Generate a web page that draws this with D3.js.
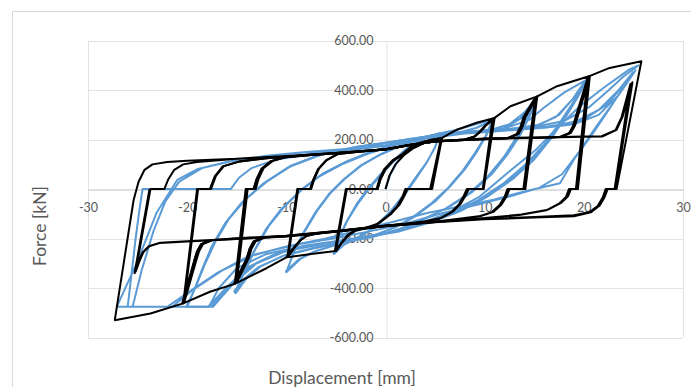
<!DOCTYPE html>
<html>
<head>
<meta charset="utf-8">
<script src="https://cdn.jsdelivr.net/npm/d3@7"></script>
<style>
  body { margin: 0; background: #fff; }
  svg { display: block; }
  text { font-family: Lato, "Open Sans", sans-serif; fill: #595959; }
</style>
</head>
<body>
<svg id="chart" width="691" height="387"></svg>
<script>
// Axis ticks
const xTicks = [-30, -20, -10, 0, 10, 20, 30];
const yTicks = [-600, -400, -200, 0, 200, 400, 600];
const xLabel = "Displacement [mm]";
const yLabel = "Force [kN]";

// Numerical model response, one array per displacement amplitude, [mm, kN]
const blackA5 = [
  [0,0],[0.4,55],[1.0,100],[1.8,135],[2.8,165],[4.0,188],[5.0,200],[5.7,207],
  [4.6,0],[2.1,0],[1.8,-30],[1.3,-65],[0.5,-100],[-0.8,-140],[-2.0,-157],[-3.0,-167],[-3.7,-184],[-4.3,-210],[-5.0,-250],
  [-3.9,0],[-0.8,0],[-0.5,40],[0,80],[0.8,115],[1.8,140],[2.7,172],[3.7,188],[4.6,199],[5.6,205],
  [4.5,0],[2.0,0],[1.7,-32],[1.2,-68],[0.4,-103],[-0.9,-142],[-2.0,-156],[-3.0,-167],[-3.7,-184],[-4.2,-208],[-5.1,-248],
  [-4.0,0],[-0.9,0],[-0.6,42],[-0.1,82],[0.7,116],[1.7,142],[2.6,172],[3.6,189],[4.5,199],[5.7,206],
  [4.7,0],[2.2,0],[1.9,-28],[1.4,-64],[0.6,-99],[-0.7,-139],[-1.9,-157],[-2.9,-166],[-3.6,-183],[-4.2,-206],[-5.0,-252]
];
const blackA10 = [
  [-3.9,0],[-0.8,0],[-0.5,42],[0,82],[0.8,116],[1.8,142],[2.7,174],[3.7,190],[4.6,200],[5.7,207],[7.2,240],[9.2,268],[11.0,288],
  [9.9,0],[8.3,0],[8.0,-25],[7.5,-60],[6.7,-92],[5.5,-118],[4.0,-130],[2.0,-140],[0,-148],[-2.1,-157],[-3.1,-168],[-3.8,-185],[-4.3,-210],[-5.0,-250],[-7.5,-262],[-9.9,-276],
  [-8.9,0],[-7.6,0],[-7.3,35],[-6.8,80],[-6.0,115],[-4.8,142],[-2.5,152],[0,160],[2.5,178],[5,192],[7.9,200],[8.9,212],[9.5,232],[10.0,255],[10.8,285],
  [9.8,0],[8.2,0],[7.9,-27],[7.4,-62],[6.6,-94],[5.4,-120],[4,-131],[2,-141],[0,-149],[-2.5,-161],[-5,-171],[-6.9,-180],[-7.9,-188],[-8.5,-205],[-9.0,-228],[-9.8,-272],
  [-8.8,0],[-7.5,0],[-7.2,38],[-6.7,83],[-5.9,118],[-4.7,143],[-2.5,153],[0,161],[2.5,179],[5,193],[8.0,201],[9.0,213],[9.6,234],[10.1,257],[11.0,287],
  [9.9,0],[8.4,0],[8.1,-24],[7.6,-58],[6.8,-91],[5.6,-117],[4,-130],[2,-140],[0,-148],[-2.5,-160],[-5,-170],[-7.0,-181],[-8.0,-190],[-8.6,-207],[-9.1,-230],[-10.0,-275]
];
const blackA15 = [
  [-8.9,0],[-7.6,0],[-7.3,36],[-6.8,81],[-6.0,116],[-4.8,142],[-2.5,152],[0,160],[2.5,178],[5,192],[8.0,201],[9.0,213],[9.6,234],[10.1,257],[11.0,288],[12.6,335],[15.3,375],
  [14.0,0],[12.4,0],[12.1,-30],[11.6,-62],[10.8,-92],[9.5,-110],[7,-122],[5,-132],[2.5,-140],[0,-148],[-2.5,-160],[-5,-170],[-7.0,-181],[-8.0,-190],[-8.6,-207],[-9.1,-230],[-10.0,-276],[-12,-320],[-15.2,-383],
  [-14.1,0],[-13.3,0],[-13.0,40],[-12.5,82],[-11.6,112],[-10.3,128],[-7.5,138],[-5,145],[-2.5,152],[0,160],[2.5,178],[5,192],[8.5,200],[10,203],[12.2,205],[13.2,222],[13.6,250],[13.9,290],[15.1,370],
  [13.9,0],[12.3,0],[12.0,-32],[11.5,-64],[10.7,-94],[9.4,-111],[7,-123],[5,-133],[2.5,-141],[0,-149],[-5,-171],[-10,-190],[-12.1,-195],[-13.1,-211],[-13.5,-240],[-13.8,-280],[-15.0,-378],
  [-13.9,0],[-13.1,0],[-12.8,42],[-12.3,84],[-11.4,113],[-10.1,129],[-7.5,139],[-5,146],[-2.5,153],[0,161],[2.5,179],[5,193],[8.5,201],[10,204],[12.4,206],[13.4,223],[13.8,252],[14.1,292],[15.3,374],
  [14.1,0],[12.5,0],[12.2,-30],[11.7,-62],[10.9,-92],[9.6,-109],[7,-122],[5,-132],[2.5,-140],[0,-148],[-5,-170],[-10,-190],[-12.3,-196],[-13.3,-212],[-13.7,-241],[-14.0,-281],[-15.3,-384]
];
const blackA20 = [
  [-14.1,0],[-13.3,0],[-13.0,40],[-12.5,82],[-11.6,112],[-10.3,128],[-7.5,138],[-5,145],[-2.5,152],[0,160],[2.5,178],[5,192],[8.5,200],[10,203],[12.4,206],[13.4,223],[13.8,252],[14.1,292],[15.3,375],[17.3,416],[20.5,456],
  [19.3,0],[18.6,0],[18.3,-30],[17.6,-57],[16.3,-84],[13.6,-104],[10,-118],[5,-132],[0,-148],[-5,-170],[-10,-190],[-12.3,-196],[-13.3,-212],[-13.7,-241],[-14.0,-281],[-15.2,-383],[-17.7,-415],[-20.4,-462],
  [-19.0,0],[-17.7,0],[-17.2,51],[-16.4,92],[-14.7,112],[-12,125],[-8,137],[-5,145],[0,160],[2.5,178],[5,192],[8.5,200],[12,205],[15,207],[17.5,210],[18.5,226],[18.9,254],[19.2,294],[20.4,452],
  [19.2,0],[18.5,0],[18.2,-32],[17.5,-59],[16.2,-86],[13.5,-105],[10,-119],[5,-133],[0,-149],[-5,-171],[-10,-191],[-15,-201],[-17.4,-206],[-18.4,-222],[-18.8,-251],[-19.1,-291],[-20.3,-458],
  [-18.9,0],[-17.6,0],[-17.1,53],[-16.3,93],[-14.6,113],[-12,126],[-8,138],[-5,146],[0,161],[2.5,179],[5,193],[8.5,201],[12,206],[15,208],[17.7,211],[18.7,228],[19.1,256],[19.4,296],[20.6,455],
  [19.4,0],[18.7,0],[18.4,-29],[17.7,-56],[16.4,-83],[13.7,-103],[10,-117],[5,-131],[0,-147],[-5,-169],[-10,-189],[-15,-199],[-17.6,-207],[-18.6,-223],[-19.0,-252],[-19.3,-292],[-20.5,-462]
];
const blackA25 = [
  [-19.0,0],[-17.7,0],[-17.2,51],[-16.4,92],[-14.7,112],[-12,125],[-8,137],[-5,145],[0,160],[2.5,178],[5,192],[8.5,200],[12,205],[15,207],[17.6,210],[18.6,227],[19.0,255],[19.3,294],[20.5,456],[22.6,490],[25.8,517],
  [23.3,0],[22.3,0],[22.0,-30],[21.5,-65],[20.6,-92],[19.0,-106],[15,-113],[10,-120],[5,-132],[0,-148],[-5,-170],[-10,-190],[-15,-200],[-17.6,-207],[-18.6,-223],[-19.0,-252],[-19.3,-292],[-20.4,-462],[-23.7,-503],[-27.3,-530],
  [-25.4,-44],[-24.9,30],[-24.3,78],[-23.5,100],[-22,110],[-20,115],[-15,123],[-10,133],[-5,145],[0,160],[2.5,178],[5,192],[10,204],[15,208],[20,212],[21.9,213],[23.3,240],[23.9,292],[24.9,432],
  [23.2,0],[22.4,0],[22.1,-32],[21.6,-66],[20.7,-94],[19,-108],[15,-114],[10,-121],[5,-133],[0,-149],[-5,-171],[-10,-191],[-15,-201],[-20,-211],[-22.7,-217],[-23.8,-230],[-24.4,-254],[-24.8,-290],[-25.2,-334],
  [-23.7,0],[-22.3,0],[-21.9,40],[-21.3,78],[-20.4,100],[-19,110],[-15,123],[-10,134],[-5,146],[0,161],[2.5,179],[5,193],[10,205],[15,209],[20,213],[21.8,214],[23.2,238],[23.8,290],[24.7,425],
  [23.1,0],[22.2,0],[21.9,-34],[21.4,-68],[20.5,-96],[19,-110],[15,-115],[10,-122],[5,-134],[0,-150],[-5,-172],[-10,-192],[-15,-202],[-20,-212],[-22.8,-218],[-23.9,-232],[-24.5,-256],[-24.9,-292],[-25.3,-340],
  [-23.8,0]
];

// Test response, one array per displacement amplitude, [mm, kN]
const blueA5 = [
  [0,0],[0.5,60],[1.2,110],[2.2,155],[3.3,190],[4.4,212],[5.5,225],
  [5.0,170],[4.2,110],[3.2,50],[2.0,-20],[0.8,-80],[-0.5,-135],[-1.8,-175],[-3.0,-200],[-4.2,-225],[-5.2,-262],
  [-4.7,-200],[-3.9,-130],[-2.9,-60],[-1.8,0],[-0.5,60],[0.8,115],[2.0,160],[3.2,195],[4.4,215],[5.5,226],
  [5.0,168],[4.1,105],[3.0,45],[1.8,-25],[0.6,-85],[-0.7,-138],[-2.0,-178],[-3.2,-203],[-4.3,-228],[-5.3,-264]
];
const blueA10 = [
  [-4.7,-200],[-3.9,-130],[-2.8,-60],[-1.7,0],[-0.4,60],[0.9,115],[2.1,160],[3.3,195],[4.5,215],[5.5,226],[7.0,238],[8.5,255],[10.9,283],
  [10.2,220],[9.2,150],[8.0,80],[6.5,10],[5.0,-50],[3.0,-110],[1.0,-155],[-1.0,-185],[-3.0,-205],[-5.0,-225],[-7.0,-250],[-8.5,-280],[-10.0,-336],
  [-9.2,-250],[-8.2,-170],[-7.0,-90],[-5.7,-20],[-4.2,40],[-2.5,95],[-0.5,140],[1.5,175],[3.5,205],[5.5,222],[7.5,230],[9.2,248],[10.8,280],
  [10.1,215],[9.0,145],[7.8,75],[6.3,5],[4.7,-55],[2.8,-112],[0.8,-157],[-1.2,-187],[-3.2,-207],[-5.2,-228],[-7.2,-253],[-8.7,-283],[-10.1,-333]
];
const blueA15 = [
  [-9.2,-250],[-8.1,-168],[-6.9,-88],[-5.6,-18],[-4.1,42],[-2.4,97],[-0.4,142],[1.6,177],[3.6,207],[5.6,224],[8,232],[10.5,238],[12.5,262],[14,310],[15.3,370],
  [14.6,300],[13.6,220],[12.3,140],[10.7,60],[8.8,-10],[6.5,-70],[4,-120],[1.5,-160],[-1,-190],[-4,-212],[-7,-235],[-10,-265],[-12.5,-310],[-14,-360],[-15.1,-421],
  [-14.2,-330],[-13.1,-240],[-11.8,-150],[-10.2,-70],[-8.4,0],[-6.4,60],[-4,110],[-1.5,150],[1,180],[3.5,208],[6,226],[9,234],[12,245],[13.8,290],[15.2,366],
  [14.5,296],[13.4,214],[12.1,134],[10.5,55],[8.6,-14],[6.3,-74],[3.8,-123],[1.3,-163],[-1.2,-192],[-4.2,-214],[-7.2,-238],[-10.2,-268],[-12.7,-314],[-14.2,-364],[-15.2,-418],
  [-14.3,-340],[-13.3,-255],[-12.1,-165],[-10.6,-85],[-8.8,-15],[-6.8,48],[-4.4,100],[-1.8,143],[0.8,176],[3.3,205],[5.8,224],[8.8,233],[11.8,243],[13.6,285],[15.0,360],
  [14.3,290],[13.2,208],[11.9,128],[10.3,50],[8.4,-18],[6.1,-78],[3.6,-126],[1.1,-166],[-1.4,-195],[-4.4,-217],[-7.4,-241],[-10.4,-271],[-12.9,-318],[-14.4,-368],[-15.3,-415]
];
const blueA20 = [
  [-14.2,-330],[-13.1,-240],[-11.8,-150],[-10.2,-70],[-8.4,0],[-6.4,60],[-4,110],[-1.5,150],[1,180],[3.5,208],[6,226],[9,234],[12,245],[14.5,280],[16,330],[18,390],[20.3,443],
  [19.5,380],[18.3,300],[16.8,210],[15,120],[12.8,40],[10.3,-30],[7.5,-90],[4.5,-135],[1.5,-170],[-2,-195],[-6,-220],[-10,-250],[-13,-300],[-15.3,-380],[-17.4,-476],[-20.0,-476],
  [-19.2,-400],[-18.3,-310],[-17.2,-215],[-15.8,-120],[-14.1,-40],[-12,30],[-9.5,95],[-6.5,140],[-3,170],[0.5,190],[4,212],[8,230],[12,240],[15.5,260],[17.5,300],[19,370],[20.2,440],
  [19.3,370],[18,290],[16.5,200],[14.6,110],[12.4,30],[9.8,-40],[7,-98],[4,-140],[1,-172],[-2.5,-198],[-6.5,-222],[-10.5,-255],[-13.5,-310],[-15.8,-395],[-17.6,-476],[-20.1,-476],
  [-19.3,-410],[-18.5,-325],[-17.5,-230],[-16.2,-140],[-14.5,-55],[-12.4,20],[-9.8,88],[-6.8,135],[-3.3,167],[0.2,188],[3.8,210],[7.8,229],[11.8,239],[15.2,256],[17.2,292],[18.8,360],[20.1,436],
  [19.0,355],[17.6,270],[16.0,180],[14.0,95],[11.8,20],[9.2,-48],[6.4,-103],[3.4,-145],[0.4,-176],[-3,-201],[-7,-225],[-11,-260],[-14,-318],[-16.2,-405],[-17.9,-476],[-20.2,-476]
];
const blueA25 = [
  [-19.2,-400],[-18.3,-310],[-17.2,-215],[-15.8,-120],[-14.1,-40],[-12,30],[-9.5,95],[-6.5,140],[-3,170],[0.5,190],[4,212],[8,230],[12,240],[15.5,255],[18,275],[20.5,330],[22.5,400],[24,455],[25.5,500],
  [24.6,484],[22,410],[19.6,335],[17.4,250],[15.2,160],[12.3,65],[9.5,-30],[6.5,-95],[3,-145],[0,-178],[-4,-205],[-8,-228],[-12,-262],[-15,-320],[-16.8,-400],[-17.8,-476],[-27.1,-476],
  [-25.1,-300],[-23.1,-97],[-21,37],[-19,80],[-16,110],[-12,135],[-8,150],[-4,162],[0,178],[4,208],[8,228],[12,238],[16,250],[19,270],[21.5,320],[23.5,400],[24.9,470],
  [23.8,400],[22.5,320],[21,230],[19,120],[17.6,24],[14,-10],[10.9,-43],[7.5,-70],[4.2,-97],[0.5,-135],[-2.6,-165],[-6,-200],[-10,-232],[-14,-275],[-17,-340],[-20,-420],[-22,-476],[-26,-476],
  [-25.6,-340],[-25.2,-200],[-24.8,-80],[-24.5,0],[-15.6,0],[-14.8,45],[-13.5,85],[-11,120],[-7,145],[-3,160],[1,180],[4,205],[8,225],[12,236],[16,248],[19,262],[21.5,300],[23.5,380],[25.2,480],
  [24.2,420],[22.8,340],[21.2,250],[19.5,150],[17.8,60],[15.5,5],[12.5,-30],[9,-65],[5.5,-100],[2,-140],[-1.5,-170],[-5,-198],[-9,-225],[-13,-262],[-16.5,-330],[-19.5,-410],[-21.5,-476],[-25.5,-476],
  [-24.6,-330],[-23.4,-170],[-22.2,-50],[-20.8,30],[-18.5,85],[-15,118],[-11,138],[-7,152],[-3,165],[1,182],[5,212],[9,230],[13,240],[17,255],[20,282],[22.3,340],[24,420],[25.0,475]
];

const blueSeries = [blueA5, blueA10, blueA15, blueA20, blueA25];
const blackSeries = [blackA5, blackA10, blackA15, blackA20, blackA25];

const svg = d3.select("#chart");
const x = d3.scaleLinear().domain([-30, 30]).range([88, 683]);
const y = d3.scaleLinear().domain([-600, 600]).range([337.5, 40.7]);

// chart frame (top and left edges show inside the page)
svg.append("path")
  .attr("d", `M12.5,387 V11.5 H691`)
  .attr("fill", "none")
  .attr("stroke", "#d9d9d9")
  .attr("stroke-width", 1);

// horizontal gridlines
svg.append("g").selectAll("line")
  .data(yTicks.filter(d => d !== 0))
  .join("line")
  .attr("x1", x(-30)).attr("x2", x(30))
  .attr("y1", d => Math.round(y(d)) + 0.5).attr("y2", d => Math.round(y(d)) + 0.5)
  .attr("stroke", "#e3e3e3").attr("stroke-width", 1);

// vertical gridlines at the ends of the displacement range
svg.append("g").selectAll("line")
  .data([-30, 30])
  .join("line")
  .attr("x1", d => Math.round(x(d)) + 0.5).attr("x2", d => Math.round(x(d)) + 0.5)
  .attr("y1", y(600)).attr("y2", y(-600))
  .attr("stroke", "#e3e3e3").attr("stroke-width", 1);

// displacement axis through zero force
const xAxis = d3.axisBottom(x).tickValues(xTicks).tickSize(0).tickPadding(14)
  .tickFormat(d => String(d));
const gx = svg.append("g")
  .attr("transform", `translate(0,${Math.round(y(0)) + 0.5})`)
  .call(xAxis);
gx.select(".domain").attr("stroke", "#bfbfbf");
gx.selectAll("text").style("font-size", "12.5px").style("fill", "#595959");

// force axis through zero displacement
const yAxis = d3.axisLeft(y).tickValues(yTicks).tickSize(0).tickPadding(13)
  .tickFormat(d => d.toFixed(2));
const gy = svg.append("g")
  .attr("transform", `translate(${Math.round(x(0)) + 0.5},0)`)
  .call(yAxis);
gy.select(".domain").attr("stroke", "#e3e3e3");
gy.selectAll("text").style("font-size", "12.5px").style("fill", "#595959");

// hysteresis curves
const line = d3.line().x(d => x(d[0])).y(d => y(d[1]));
svg.append("g").selectAll("path")
  .data(blueSeries)
  .join("path")
  .attr("d", line)
  .attr("fill", "none")
  .attr("stroke", "#5b9bd5")
  .attr("stroke-width", 2)
  .attr("stroke-linejoin", "round");
svg.append("g").selectAll("path")
  .data(blackSeries)
  .join("path")
  .attr("d", line)
  .attr("fill", "none")
  .attr("stroke", "#000")
  .attr("stroke-width", 2)
  .attr("stroke-linejoin", "round");

// axis titles
svg.append("text")
  .attr("x", 342).attr("y", 384)
  .attr("text-anchor", "middle")
  .style("font-size", "17.5px")
  .text(xLabel);
svg.append("text")
  .attr("transform", "translate(46,226) rotate(-90)")
  .attr("text-anchor", "middle")
  .style("font-size", "17.5px")
  .text(yLabel);
</script>
</body>
</html>
